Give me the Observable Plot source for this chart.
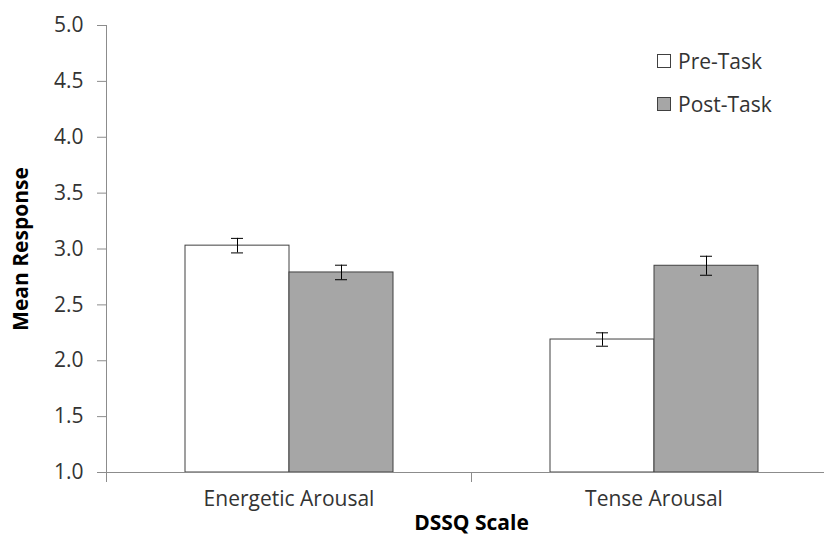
<!DOCTYPE html>
<html>
<head>
<meta charset="utf-8">
<script src="https://cdn.jsdelivr.net/npm/d3@7"></script>
<script src="https://cdn.jsdelivr.net/npm/@observablehq/plot@0.6"></script>
<style>
  html, body { margin: 0; padding: 0; background: #fff; }
  #wrap { position: relative; width: 824px; height: 538px; font-family: "Open Sans", sans-serif; }
  #legend { position: absolute; left: 657px; top: 39px; font-size: 21px; color: #333; }
  #legend .item { display: flex; align-items: center; height: 43px; }
  #legend .sw { width: 14px; height: 14px; border: 1px solid #404040; margin-right: 7px; box-sizing: border-box; }
</style>
</head>
<body>
<div id="wrap"></div>
<script>
const categories = ["Energetic Arousal", "Tense Arousal"];
const phases = ["Pre-Task", "Post-Task"];
const preMeans = [3.03, 2.19];
const postMeans = [2.79, 2.85];
const preErr = [0.065, 0.06];
const postErr = [0.065, 0.085];
const yTicks = [1.0, 1.5, 2.0, 2.5, 3.0, 3.5, 4.0, 4.5, 5.0];
const phaseColors = ["#ffffff", "#a6a6a6"];
const xTitle = "DSSQ Scale";
const yTitle = "Mean Response";

const rows = [];
categories.forEach((c, i) => {
  rows.push({category: c, phase: phases[0], mean: preMeans[i], err: preErr[i]});
  rows.push({category: c, phase: phases[1], mean: postMeans[i], err: postErr[i]});
});

const axisColor = "#8c8c8c";
const textColor = "#333333";

const chart = Plot.plot({
  width: 824,
  height: 538,
  marginTop: 25,
  marginBottom: 66,
  marginLeft: 106,
  marginRight: -12,
  style: {fontFamily: "Open Sans, sans-serif", fontSize: "21px", color: textColor, background: "#fff", overflow: "visible"},
  fx: {domain: categories, padding: 0, label: null},
  x: {domain: phases, paddingInner: 0, paddingOuter: 0.75, axis: null},
  y: {domain: [1, 5], label: null},
  color: {domain: phases, range: phaseColors},
  marks: [
    Plot.frame({anchor: "left", facetAnchor: "left", stroke: axisColor}),
    Plot.axisY({ticks: yTicks, tickFormat: d3.format(".1f"), tickSize: 9, tickPadding: 14, stroke: axisColor, fill: textColor, fontSize: 21, label: null, anchor: "left"}),
    Plot.axisFx({anchor: "bottom", tickSize: 0, tickPadding: 19, fontSize: 21, fill: textColor, label: null}),
    Plot.barY(rows, {fx: "category", x: "phase", y1: 1, y2: "mean", fill: "phase", stroke: "#404040", strokeWidth: 1}),
    Plot.ruleX(rows, {fx: "category", x: "phase", y1: d => d.mean - d.err, y2: d => d.mean + d.err, stroke: "#000", strokeWidth: 1}),
    Plot.tickY(rows, {fx: "category", x: "phase", y: d => d.mean - d.err, stroke: "#000", insetLeft: 46, insetRight: 46}),
    Plot.tickY(rows, {fx: "category", x: "phase", y: d => d.mean + d.err, stroke: "#000", insetLeft: 46, insetRight: 46}),
    Plot.ruleY([1], {stroke: axisColor}),
    Plot.frame({anchor: "left", insetTop: 447, insetBottom: -9, stroke: axisColor}),
    Plot.text([xTitle], {facet: "super", frameAnchor: "bottom", lineAnchor: "middle", dy: 51, fontWeight: "bold", fontSize: 21, fill: "#000"}),
    Plot.text([yTitle], {facet: "super", frameAnchor: "left", textAnchor: "middle", lineAnchor: "middle", dx: -85, rotate: -90, fontWeight: "bold", fontSize: 21, fill: "#000"})
  ]
});

const wrap = document.getElementById("wrap");
wrap.appendChild(chart);

const legend = document.createElement("div");
legend.id = "legend";
phases.forEach((p, i) => {
  const item = document.createElement("div");
  item.className = "item";
  const sw = document.createElement("span");
  sw.className = "sw";
  sw.style.background = phaseColors[i];
  const lab = document.createElement("span");
  lab.textContent = p;
  item.appendChild(sw);
  item.appendChild(lab);
  legend.appendChild(item);
});
wrap.appendChild(legend);
</script>
</body>
</html>
